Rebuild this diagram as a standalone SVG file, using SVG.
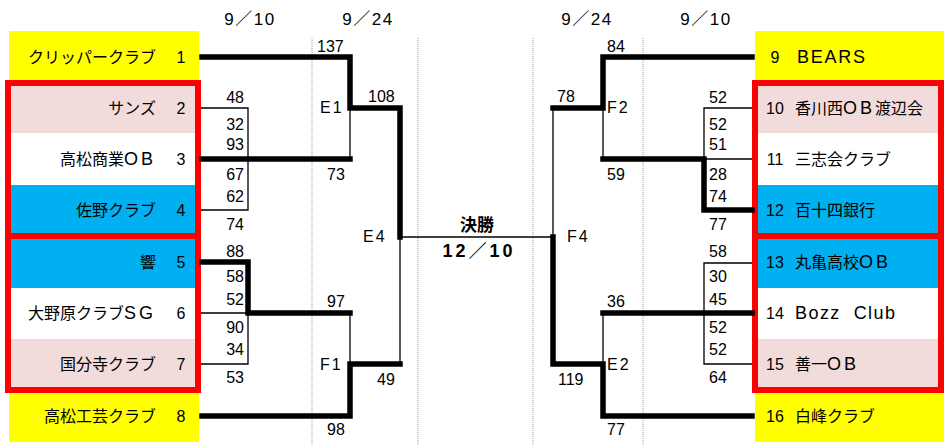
<svg xmlns="http://www.w3.org/2000/svg" width="944" height="446" viewBox="0 0 944 446">
<style>
text{font-family:"Liberation Sans","Noto Sans CJK JP",sans-serif;font-size:16px;fill:#000}
.nm{text-anchor:end}
.num{text-anchor:middle}
.scr{text-anchor:end}
.hd{text-anchor:middle;font-size:17px;letter-spacing:1.5px}
.b{font-weight:bold;text-anchor:middle}
.lat{font-size:18px}
.ob{font-size:18px;letter-spacing:3px}
.thick{stroke:#000;stroke-width:5.5;fill:none;stroke-linecap:square}
.thin{stroke:#000;stroke-width:1.3;fill:none}
.dot{stroke:#999;stroke-width:1;stroke-dasharray:1 1}
.yel{fill:#ffff00}
.pink{fill:#f2dcdb}
.blue{fill:#00b0f0}
.wh{fill:#ffffff}
.red{fill:none;stroke:#ff0000;stroke-width:6}
</style>
<rect width="944" height="446" fill="#ffffff"/>
<g id="guides">
<line class="dot" x1="312" y1="38" x2="312" y2="446"/>
<line class="dot" x1="418" y1="38" x2="418" y2="446"/>
<line class="dot" x1="533" y1="38" x2="533" y2="446"/>
<line class="dot" x1="643" y1="38" x2="643" y2="446"/>
</g>
<g id="headers">
<text class="hd" x="250" y="25">9／10</text>
<text class="hd" x="368" y="25">9／24</text>
<text class="hd" x="587" y="25">9／24</text>
<text class="hd" x="706" y="25">9／10</text>
</g>
<g id="team1"><rect class="yel" x="9" y="31" width="190" height="49"/><text class="nm" x="156" y="63">クリッパークラブ</text><text class="num" x="181" y="63">1</text></g>
<g id="team2"><rect class="pink" x="11" y="86" width="184" height="47"/><text class="nm" x="156" y="114">サンズ</text><text class="num" x="181" y="114">2</text></g>
<g id="team3"><rect class="wh" x="11" y="133" width="184" height="52"/><text class="nm" x="156" y="165">高松商業<tspan class="ob">OB</tspan></text><text class="num" x="181" y="165">3</text></g>
<g id="team4"><rect class="blue" x="11" y="185" width="184" height="48"/><text class="nm" x="156" y="216">佐野クラブ</text><text class="num" x="181" y="216">4</text></g>
<g id="team5"><rect class="blue" x="11" y="239" width="184" height="49"/><text class="nm" x="156" y="268">響</text><text class="num" x="181" y="268">5</text></g>
<g id="team6"><rect class="wh" x="11" y="288" width="184" height="51"/><text class="nm" x="156" y="319">大野原クラブ<tspan class="ob">SG</tspan></text><text class="num" x="181" y="319">6</text></g>
<g id="team7"><rect class="pink" x="11" y="339" width="184" height="48"/><text class="nm" x="156" y="370">国分寺クラブ</text><text class="num" x="181" y="370">7</text></g>
<g id="team8"><rect class="yel" x="9" y="393" width="190" height="49"/><text class="nm" x="156" y="422">高松工芸クラブ</text><text class="num" x="181" y="422">8</text></g>
<g id="group-left">
<rect class="red" x="8" y="83" width="190" height="153"/>
<rect class="red" x="8" y="236" width="190" height="154"/>
</g>
<g id="team9"><rect class="yel" x="755" y="31" width="189" height="49"/><text class="num" x="775" y="63">9</text><text class="lat" x="797" y="63" textLength="68">BEARS</text></g>
<g id="team10"><rect class="pink" x="758" y="86" width="180" height="47"/><text class="num" x="775" y="114">10</text><text x="795" y="114">香川西<tspan class="ob">OB</tspan>渡辺会</text></g>
<g id="team11"><rect class="wh" x="758" y="133" width="180" height="52"/><text class="num" x="775" y="165">11</text><text x="795" y="165">三志会クラブ</text></g>
<g id="team12"><rect class="blue" x="758" y="185" width="180" height="48"/><text class="num" x="775" y="216">12</text><text x="795" y="216">百十四銀行</text></g>
<g id="team13"><rect class="blue" x="758" y="239" width="180" height="49"/><text class="num" x="775" y="268">13</text><text x="795" y="268">丸亀高校<tspan class="ob">OB</tspan></text></g>
<g id="team14"><rect class="wh" x="758" y="288" width="180" height="51"/><text class="num" x="775" y="319">14</text><text class="lat" x="795" y="319" textLength="100" xml:space="preserve">Bozz  Club</text></g>
<g id="team15"><rect class="pink" x="758" y="339" width="180" height="48"/><text class="num" x="775" y="370">15</text><text x="795" y="370">善一<tspan class="ob">OB</tspan></text></g>
<g id="team16"><rect class="yel" x="755" y="393" width="189" height="49"/><text class="num" x="775" y="422">16</text><text x="795" y="422">白峰クラブ</text></g>
<g id="group-right">
<rect class="red" x="755" y="83" width="186" height="153"/>
<rect class="red" x="755" y="236" width="186" height="154"/>
</g>
<g id="connectors">
<path class="thin" d="M201,108 H248 V210 H201"/>
<path class="thin" d="M350,108 V159"/>
<path class="thin" d="M201,313 H248 V364 H201"/>
<path class="thin" d="M350,313 V364"/>
<path class="thin" d="M400,237 V364"/>
<path class="thin" d="M400,237 H553"/>
<path class="thin" d="M553,108 V237"/>
<path class="thin" d="M603,108 V159"/>
<path class="thin" d="M752,108 H704 V210"/>
<path class="thin" d="M704,159 H752"/>
<path class="thin" d="M752,263 H704 V364 H752"/>
<path class="thin" d="M603,313 V364"/>
<path class="thick" d="M202,57 H350 V108 H400 V237"/>
<path class="thick" d="M202,159 H350"/>
<path class="thick" d="M202,262 H248 V313 H350"/>
<path class="thick" d="M202,416 H350 V364 H400"/>
<path class="thick" d="M752,57 H603 V108 H553"/>
<path class="thick" d="M752,210 H704 V159 H603"/>
<path class="thick" d="M752,313 H603"/>
<path class="thick" d="M752,416 H603 V364 H553 V237"/>
</g>
<g id="scores">
<text class="scr" x="244" y="103">48</text>
<text class="scr" x="244" y="130">32</text>
<text class="scr" x="244" y="150">93</text>
<text class="scr" x="244" y="180">67</text>
<text class="scr" x="244" y="202">62</text>
<text class="scr" x="244" y="230">74</text>
<text class="scr" x="244" y="257">88</text>
<text class="scr" x="244" y="282">58</text>
<text class="scr" x="244" y="305">52</text>
<text class="scr" x="244" y="333">90</text>
<text class="scr" x="244" y="355">34</text>
<text class="scr" x="244" y="383">53</text>
<text x="317" y="52">137</text>
<text x="320" y="113" letter-spacing="2">E1</text>
<text x="368" y="102">108</text>
<text x="327" y="180">73</text>
<text x="363" y="242" letter-spacing="2">E4</text>
<text x="327" y="307">97</text>
<text x="320" y="370" letter-spacing="2">F1</text>
<text x="377" y="385">49</text>
<text x="327" y="435">98</text>
<text x="709" y="103">52</text>
<text x="709" y="130">52</text>
<text x="709" y="150">51</text>
<text x="709" y="180">28</text>
<text x="709" y="202">74</text>
<text x="709" y="230">77</text>
<text x="709" y="257">58</text>
<text x="709" y="282">30</text>
<text x="709" y="305">45</text>
<text x="709" y="333">52</text>
<text x="709" y="355">52</text>
<text x="709" y="383">64</text>
<text x="607" y="52">84</text>
<text x="557" y="102">78</text>
<text x="607" y="113" letter-spacing="2">F2</text>
<text x="607" y="180">59</text>
<text x="567" y="242" letter-spacing="2">F4</text>
<text x="607" y="307">36</text>
<text x="607" y="370" letter-spacing="2">E2</text>
<text x="558" y="385">119</text>
<text x="607" y="435">77</text>
</g>
<g id="final">
<text class="b" x="477" y="231" style="font-size:17px">決勝</text>
<text class="b" x="479" y="257" style="font-size:18px;letter-spacing:3px">12／10</text>
</g>
</svg>
